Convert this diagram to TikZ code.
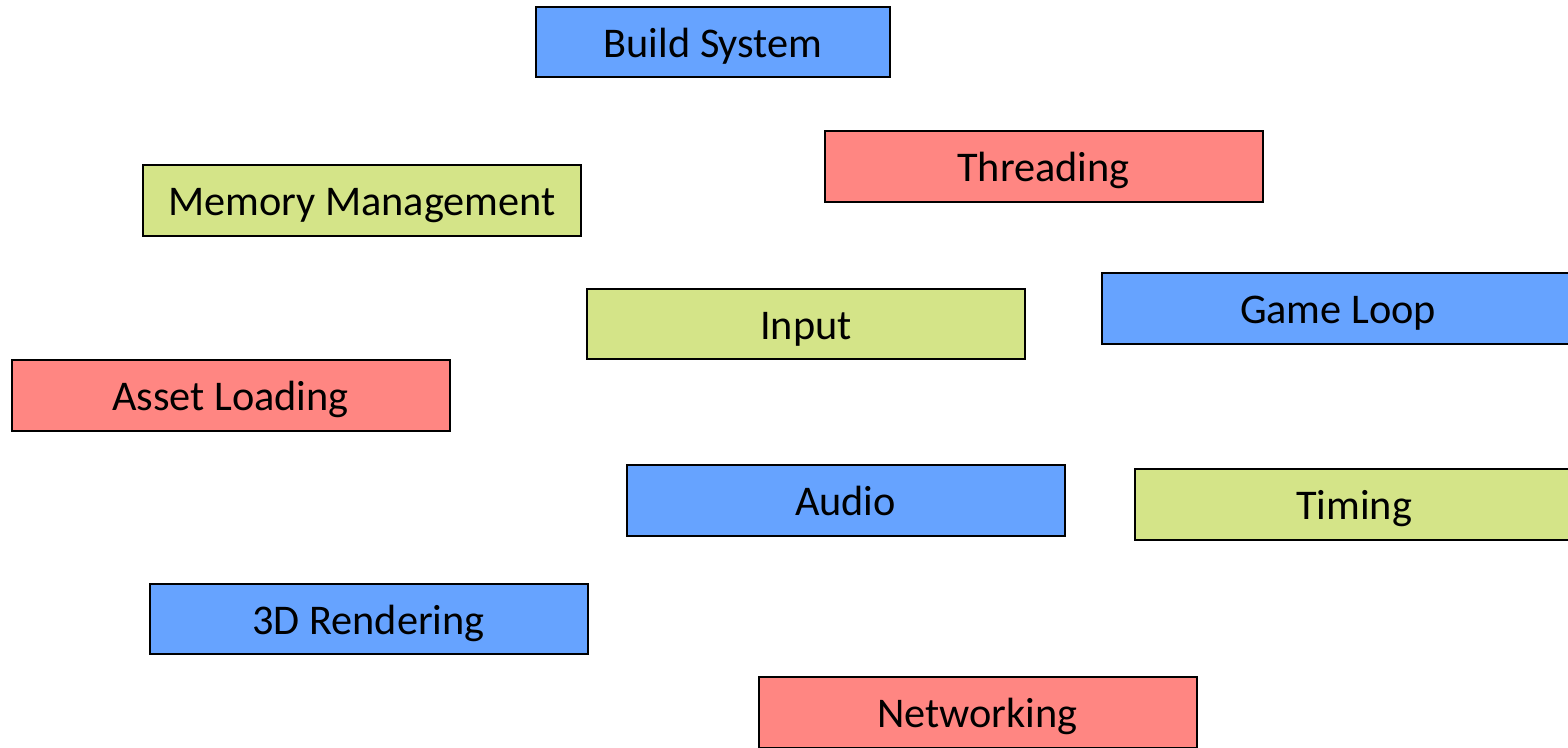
\documentclass[tikz,border=0pt]{standalone}
\usepackage{fontspec}
\setmainfont{Carlito}
\definecolor{boxblue}{RGB}{102,163,255}
\definecolor{boxred}{RGB}{255,134,130}
\definecolor{boxgreen}{RGB}{212,228,136}
\tikzset{
  topic/.style={draw=black, line width=2pt, minimum height=71pt, minimum width=438pt,
    inner sep=0pt, text height=30pt, text depth=0pt, font=\fontsize{42.3}{50}\selectfont},
  bluebox/.style={topic, fill=boxblue},
  redbox/.style={topic, fill=boxred},
  greenbox/.style={topic, fill=boxgreen}
}
\begin{document}
\begin{tikzpicture}[x=1pt,y=-1pt]
  \useasboundingbox (0,0) rectangle (1568,747);
  \clip (0,0) rectangle (1568,747);
  \fill[white] (0,0) rectangle (1568,747);
  \node[bluebox, minimum width=354pt, minimum height=70pt] (build) at (713,42) {Build System};
  \node[redbox] (thread) at (1043.5,166.5) {Threading};
  \node[greenbox] (memory) at (362,200.5) {Memory Management};
  \node[greenbox, minimum height=70pt] (input) at (806,324) {Input};
  \node[bluebox, minimum width=472pt] (loop) at (1338,308.5) {Game Loop};
  \node[redbox] (asset) at (230.5,395.5) {Asset Loading};
  \node[bluebox] (audio) at (845.5,500.5) {Audio};
  \node[greenbox] (timing) at (1354,504.5) {Timing};
  \node[bluebox, minimum height=70pt] (render) at (368.5,619) {3D Rendering};
  \node[redbox] (net) at (977.5,712.5) {Networking};
\end{tikzpicture}
\end{document}
